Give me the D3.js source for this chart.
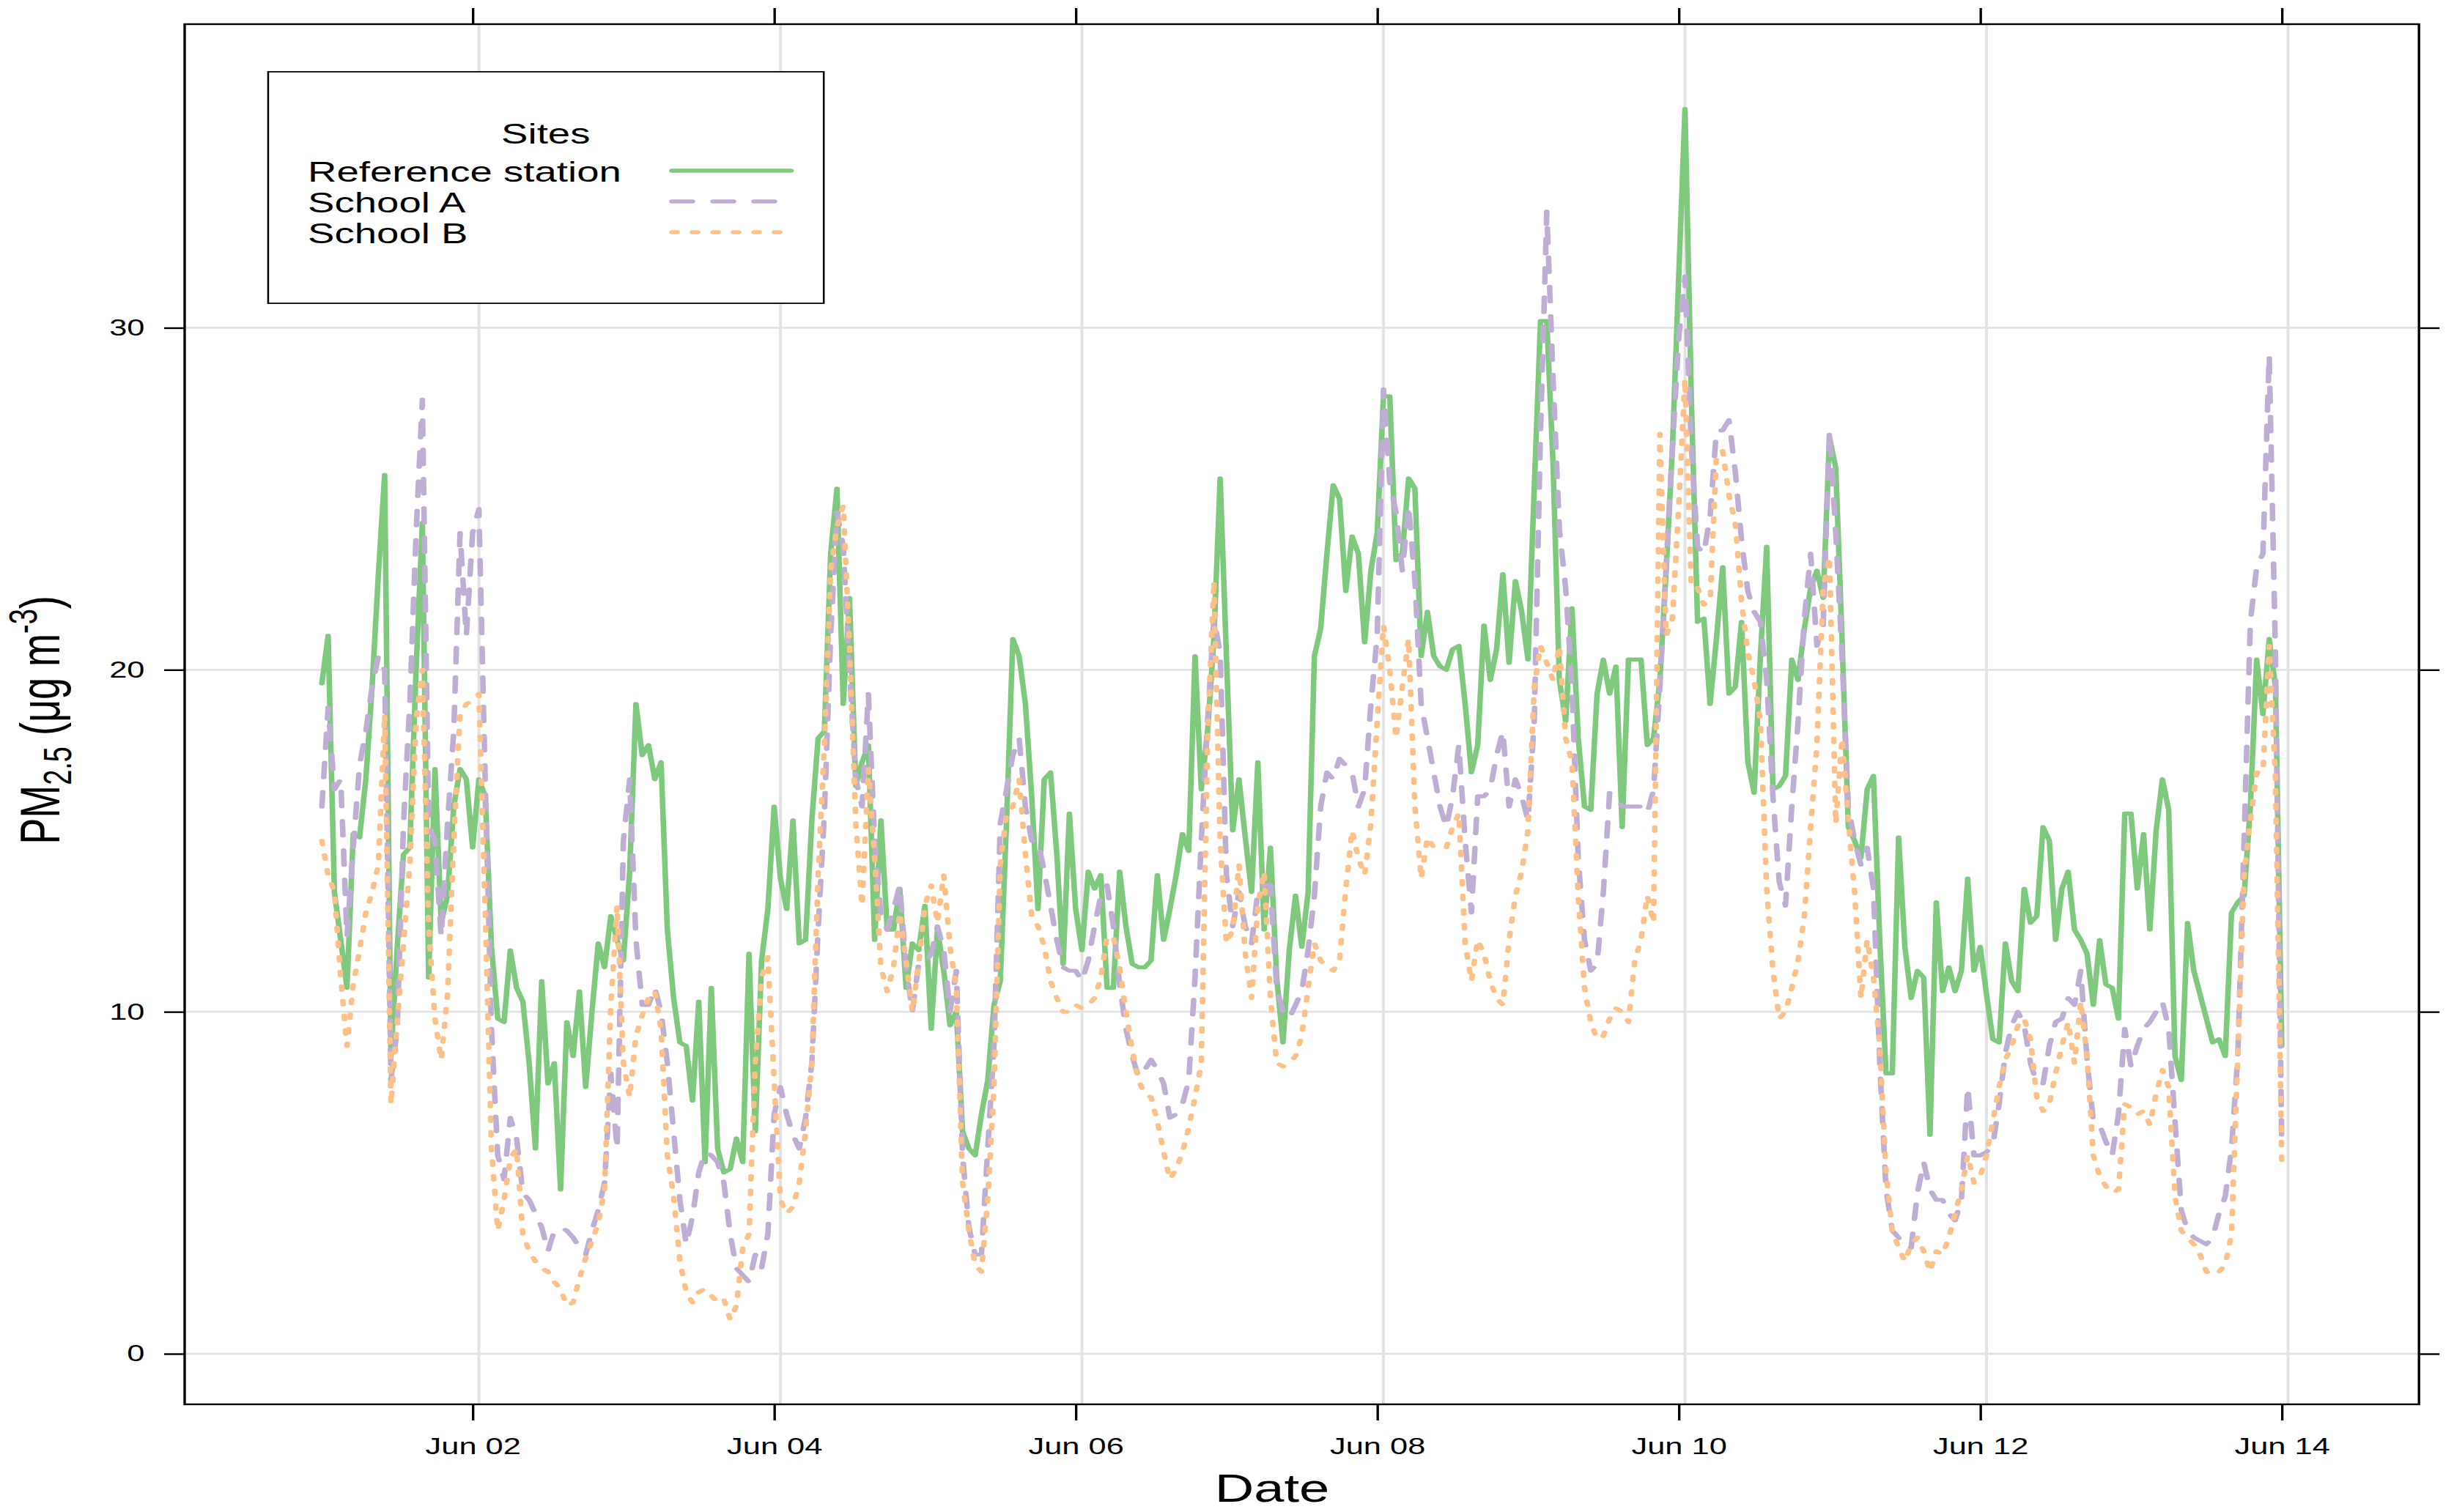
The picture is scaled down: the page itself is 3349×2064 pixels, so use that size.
<!DOCTYPE html>
<html>
<head>
<meta charset="utf-8">
<script src="https://cdn.jsdelivr.net/npm/d3@7"></script>
<style>
  html, body { margin: 0; padding: 0; background: #fff; }
  svg { display: block; }
  text { font-family: "Liberation Sans", Arial, Helvetica, sans-serif; }
</style>
</head>
<body>
<div id="chart"></div>
<script>
// hourly PM2.5 (ug m-3), one row per day, first value is Jun 01 00:00
const refStation = [
  19.6, 21.0, 13.5, 12.1, 10.7, 15.2, 15.1, 16.8, 19.5, 22.8, 25.7, 8.7, 11.9, 14.6, 14.8, 20.0, 24.3, 11.0, 17.1, 12.6, 13.4, 16.0, 17.1, 16.8,
  14.8, 16.8, 16.3, 11.9, 9.8, 9.7, 11.8, 10.7, 10.3, 8.5, 6.0, 10.9, 7.9, 8.5, 4.8, 9.7, 8.7, 10.6, 7.8, 10.0, 12.0, 11.3, 12.8, 12.1,
  11.5, 14.1, 19.0, 17.5, 17.8, 16.8, 17.3, 12.4, 10.4, 9.1, 9.0, 7.4, 10.3, 5.6, 10.7, 6.0, 5.3, 5.4, 6.3, 5.6, 11.7, 6.5, 11.5, 13.0,
  16.0, 13.9, 13.0, 15.6, 12.0, 12.1, 15.6, 18.0, 18.2, 23.4, 25.3, 19.0, 22.1, 16.6, 17.3, 17.8, 12.1, 15.6, 12.4, 12.4, 13.6, 10.7, 12.0, 11.8,
  13.1, 9.5, 12.4, 11.2, 9.6, 10.0, 6.5, 6.0, 5.8, 7.0, 8.0, 10.2, 10.9, 15.6, 20.9, 20.4, 19.0, 16.3, 13.0, 16.8, 17.0, 14.6, 11.4, 15.8,
  13.0, 11.8, 14.1, 13.6, 14.0, 10.7, 10.7, 14.1, 12.5, 11.4, 11.3, 11.3, 11.5, 14.0, 12.1, 13.0, 14.0, 15.2, 14.7, 20.4, 16.5, 18.2, 20.9, 25.6,
  20.4, 15.3, 16.8, 15.1, 13.5, 17.3, 12.4, 14.8, 11.0, 9.1, 11.8, 13.4, 11.9, 13.5, 20.4, 21.2, 23.4, 25.4, 25.0, 22.3, 23.9, 23.4, 20.8, 22.9,
  24.0, 28.0, 28.0, 23.2, 23.4, 25.6, 25.3, 20.4, 21.7, 20.4, 20.1, 20.0, 20.6, 20.7, 19.0, 17.0, 17.8, 21.3, 19.7, 20.6, 22.8, 20.2, 22.6, 21.7,
  20.3, 25.3, 30.2, 30.2, 26.0, 19.7, 18.5, 21.8, 18.0, 16.0, 15.9, 19.3, 20.3, 19.3, 20.1, 15.4, 20.3, 20.3, 20.3, 17.8, 18.0, 19.7, 22.9, 26.5,
  31.5, 36.4, 28.0, 21.4, 21.5, 19.0, 20.9, 23.0, 19.3, 19.5, 21.4, 17.3, 16.4, 20.4, 23.6, 16.5, 16.6, 16.9, 20.3, 19.7, 21.2, 22.4, 22.9, 22.1,
  26.8, 25.9, 20.9, 15.4, 15.0, 14.5, 16.5, 16.9, 12.1, 8.2, 8.2, 15.1, 11.9, 10.4, 11.2, 11.0, 6.4, 13.2, 10.6, 11.3, 10.6, 11.2, 13.9, 11.2,
  11.9, 10.5, 9.2, 9.1, 12.0, 10.9, 10.6, 13.6, 12.6, 12.8, 15.4, 15.0, 12.1, 13.6, 14.1, 12.4, 12.1, 11.7, 10.2, 12.1, 10.8, 10.7, 9.8, 15.8,
  15.8, 13.6, 15.2, 12.4, 15.3, 16.8, 15.9, 8.7, 8.0, 12.6, 11.2, 10.5, 9.8, 9.1, 9.2, 8.7, 12.9, 13.2, 13.4, 16.0, 20.3, 18.7, 20.9, 19.5,
  9.0
];

const schoolA = [
  16.0, 18.9, 16.5, 16.8, 12.2, 14.8, 17.2, 18.2, 19.5, 20.4, 20.0, 8.0, 9.5, 15.5, 19.0, 24.0, 27.9, 15.5, 15.0, 12.2, 15.5, 18.2, 24.0, 21.0,
  24.0, 24.7, 16.8, 9.5, 5.8, 5.1, 6.9, 6.3, 4.7, 4.5, 4.1, 3.7, 3.0, 3.6, 3.7, 3.6, 3.4, 3.1, 2.9, 3.6, 4.2, 5.0, 8.2, 6.0,
  15.0, 16.8, 12.1, 10.2, 10.2, 10.7, 10.0, 8.5, 6.5, 4.5, 3.2, 4.0, 5.3, 5.9, 5.8, 5.6, 5.0, 3.5, 2.5, 2.3, 2.1, 2.9, 2.5, 3.5,
  7.0, 7.8, 7.0, 6.4, 6.0, 6.9, 8.5, 12.4, 15.8, 21.0, 24.6, 23.6, 20.0, 16.8, 16.0, 19.3, 15.0, 12.8, 12.4, 13.0, 13.7, 11.3, 10.0, 11.4,
  11.4, 11.7, 12.5, 11.8, 10.0, 11.2, 5.8, 3.7, 2.9, 2.9, 6.0, 9.0, 15.5, 16.5, 17.5, 18.0, 16.0, 15.0, 15.0, 14.1, 13.1, 12.1, 11.3, 11.2,
  11.2, 10.9, 11.5, 12.5, 13.4, 13.7, 12.5, 10.8, 9.5, 8.7, 8.1, 8.3, 8.6, 8.3, 7.9, 6.9, 7.0, 7.3, 8.0, 11.0, 15.0, 18.5, 21.5, 20.5,
  14.0, 12.5, 13.5, 12.5, 12.0, 13.5, 13.7, 13.7, 10.7, 10.0, 9.8, 10.2, 10.6, 11.8, 13.4, 16.0, 17.0, 16.8, 17.4, 17.2, 17.0, 16.0, 16.5, 19.0,
  21.0, 28.2, 25.5, 24.6, 22.9, 24.8, 22.6, 19.0, 18.0, 17.0, 16.0, 15.4, 16.3, 17.8, 15.0, 12.9, 16.3, 16.3, 16.5, 17.5, 18.2, 16.0, 16.8, 16.3,
  15.6, 18.5, 27.0, 33.4, 28.5, 24.1, 22.4, 19.5, 14.5, 12.1, 11.2, 11.4, 13.5, 16.4, 16.3, 16.0, 16.0, 16.0, 16.0, 15.8, 16.5, 19.5, 23.0, 26.5,
  29.7, 31.5, 26.5, 23.6, 23.4, 24.5, 27.0, 27.0, 27.3, 25.8, 23.8, 22.3, 21.7, 21.4, 19.7, 16.3, 13.8, 13.1, 16.0, 18.5, 21.5, 23.4, 20.7, 21.3,
  27.0, 24.0, 20.4, 16.0, 15.0, 14.3, 14.8, 13.6, 8.5, 4.8, 3.6, 3.4, 3.1, 3.1, 4.7, 5.6, 4.8, 4.5, 4.5, 4.1, 3.9, 4.5, 7.8, 5.8,
  5.8, 5.9, 6.1, 7.3, 8.8, 9.6, 10.0, 9.6, 8.5, 7.9, 7.9, 9.0, 9.7, 9.8, 10.4, 10.2, 11.2, 8.6, 6.8, 6.7, 6.2, 5.8, 7.0, 9.5,
  8.4, 9.0, 9.5, 9.7, 10.0, 10.3, 9.5, 6.8, 4.2, 3.6, 3.4, 3.3, 3.2, 3.4, 4.1, 4.6, 6.0, 8.7, 15.0, 21.4, 23.0, 23.4, 29.2, 20.4,
  6.0
];

const schoolB = [
  15.0, 14.0, 13.5, 11.0, 9.0, 10.8, 11.8, 12.9, 13.5, 14.3, 18.7, 7.3, 9.7, 12.0, 14.3, 18.5, 20.0, 12.5, 9.8, 8.6, 10.5, 15.0, 18.7, 19.0,
  19.1, 19.3, 13.0, 6.0, 3.6, 4.5, 5.7, 6.0, 3.5, 3.0, 2.7, 2.5, 2.4, 2.1, 1.9, 1.4, 1.5, 2.2, 2.8, 3.3, 3.8, 4.8, 10.2, 13.1,
  8.5, 7.5, 9.3, 9.9, 10.4, 10.6, 9.5, 5.8, 4.6, 2.7, 1.8, 1.5, 1.8, 1.9, 1.7, 1.5, 1.6, 1.0, 1.4, 3.1, 3.5, 8.5, 11.0, 11.6,
  8.0, 4.5, 4.1, 4.3, 5.0, 6.5, 8.5, 14.0, 17.8, 22.9, 24.2, 24.8, 20.7, 15.5, 13.1, 17.1, 14.5, 11.3, 10.6, 11.3, 12.9, 11.5, 10.0, 11.4,
  13.1, 13.7, 12.6, 14.0, 11.9, 10.7, 5.0, 3.6, 2.6, 2.4, 4.5, 7.8, 14.3, 15.8, 16.0, 16.8, 14.6, 12.8, 12.5, 11.9, 10.9, 10.4, 10.0, 10.0,
  10.2, 10.1, 10.2, 10.4, 11.0, 12.2, 12.2, 11.3, 10.0, 8.9, 8.0, 7.6, 7.5, 6.8, 5.9, 5.1, 5.4, 5.9, 6.6, 7.5, 8.5, 18.0, 22.6, 15.0,
  12.0, 12.4, 14.3, 11.7, 10.4, 13.1, 14.1, 10.4, 8.5, 8.4, 8.5, 8.7, 9.3, 10.7, 12.0, 11.5, 11.3, 11.2, 11.5, 13.6, 15.3, 14.5, 14.0, 15.5,
  18.5, 21.3, 20.0, 18.0, 19.5, 20.9, 16.0, 13.9, 15.1, 14.8, 14.8, 14.8, 15.4, 15.8, 12.0, 10.9, 12.1, 11.7, 10.9, 10.4, 10.2, 12.1, 13.4, 14.1,
  15.3, 19.5, 20.7, 20.2, 19.7, 20.7, 18.0, 17.3, 13.4, 10.7, 9.7, 9.2, 9.3, 9.8, 10.1, 10.0, 9.7, 11.5, 12.1, 13.4, 12.6, 26.9, 21.0, 21.5,
  24.8, 28.5, 22.4, 22.4, 21.9, 22.0, 26.3, 26.4, 25.1, 24.3, 22.0, 20.5, 19.7, 18.5, 13.6, 11.2, 9.8, 10.0, 10.7, 11.5, 12.8, 15.4, 17.8, 22.4,
  23.3, 15.5, 18.0, 15.6, 13.5, 10.4, 12.1, 11.0, 9.0, 5.3, 3.6, 3.1, 2.7, 3.2, 3.4, 3.0, 2.4, 3.0, 2.9, 3.4, 4.1, 4.8, 5.8, 5.0,
  5.2, 5.8, 6.8, 7.8, 8.6, 9.0, 9.6, 9.8, 9.2, 7.5, 7.1, 7.3, 8.2, 9.0, 9.7, 8.5, 10.3, 8.7, 5.8, 5.2, 4.9, 4.7, 4.8, 7.3,
  7.2, 7.0, 7.1, 6.7, 7.6, 8.3, 7.8, 4.6, 3.6, 3.4, 3.2, 2.9, 2.4, 2.3, 2.4, 2.6, 3.5, 8.7, 14.0, 15.6, 17.0, 17.0, 20.7, 16.8,
  5.6
];

const siteNames = ["Reference station", "School A", "School B"];
const tickDays = [2, 4, 6, 8, 10, 12, 14];   // Jun 02 ... Jun 14
const yTicks = [0, 10, 20, 30];

// the reference picture is stretched sideways, so draw in a narrower
// viewBox and let the svg stretch it back out
const fullWidth = 3349;
const height = 2064;
const stretch = 1.4;
const width = fullWidth / stretch;

const margin = { top: 33, right: width - 2358, bottom: height - 1917, left: 180 };

const colors = ["#7FC97F", "#BEAED4", "#FDC086"];
const dashes = [null, "20,20", "5,15"];
const lineWidth = 5.4;

const start = new Date(2023, 5, 1, 0);
const times = refStation.map((d, i) => d3.timeHour.offset(start, i));
const series = [refStation, schoolA, schoolB];

// lattice style padding of 7% on both axes
const tMin = times[0], tMax = times[times.length - 1];
const tPad = (tMax - tMin) * 0.07;
const x = d3.scaleTime()
    .domain([new Date(+tMin - tPad), new Date(+tMax + tPad)])
    .range([margin.left, width - margin.right]);

const vMin = d3.min(series, s => d3.min(s));
const vMax = d3.max(series, s => d3.max(s));
const vPad = (vMax - vMin) * 0.07;
const y = d3.scaleLinear()
    .domain([vMin - vPad, vMax + vPad])
    .range([height - margin.bottom, margin.top]);

const tickDates = tickDays.map(d => new Date(2023, 5, d));

const svg = d3.create("svg")
    .attr("width", fullWidth)
    .attr("height", height)
    .attr("viewBox", [0, 0, width, height])
    .attr("preserveAspectRatio", "none");

// grid (vertical lines sit one hour after the tick marks, as in the original)
const grid = svg.append("g")
    .attr("stroke", "#e2e2e2")
    .attr("stroke-width", 2.8);

grid.selectAll(".vgrid")
    .data(tickDates)
    .join("line")
    .attr("x1", d => x(d3.timeHour.offset(d, 1)))
    .attr("x2", d => x(d3.timeHour.offset(d, 1)))
    .attr("y1", margin.top)
    .attr("y2", height - margin.bottom);

grid.selectAll(".hgrid")
    .data(yTicks)
    .join("line")
    .attr("x1", margin.left)
    .attr("x2", width - margin.right)
    .attr("y1", d => y(d))
    .attr("y2", d => y(d));

// lines
const line = d3.line()
    .x((d, i) => x(times[i]))
    .y(d => y(d));

series.forEach((s, i) => {
    svg.append("path")
        .datum(s)
        .attr("fill", "none")
        .attr("stroke", colors[i])
        .attr("stroke-width", lineWidth)
        .attr("stroke-linejoin", "round")
        .attr("stroke-linecap", "round")
        .attr("stroke-dasharray", dashes[i])
        .attr("d", line);
});

// axes
function styleAxis(g) {
    g.select(".domain").remove();
    g.attr("font-size", null).attr("font-family", null);
    g.selectAll(".tick line").attr("stroke", "#000").attr("stroke-width", 2.4);
    g.selectAll(".tick text")
        .attr("fill", "#000")
        .style("font-size", "31px")
        .style("font-family", '"Liberation Sans", Arial, sans-serif');
}

svg.append("g")
    .attr("transform", `translate(0,${height - margin.bottom})`)
    .call(d3.axisBottom(x).tickValues(tickDates)
        .tickFormat(d3.timeFormat("%b %d")).tickSize(22).tickPadding(24))
    .call(styleAxis);

svg.append("g")
    .attr("transform", `translate(0,${margin.top})`)
    .call(d3.axisTop(x).tickValues(tickDates).tickFormat("").tickSize(22))
    .call(styleAxis);

svg.append("g")
    .attr("transform", `translate(${margin.left},0)`)
    .call(d3.axisLeft(y).tickValues(yTicks).tickSize(20).tickPadding(19))
    .call(styleAxis);

svg.append("g")
    .attr("transform", `translate(${width - margin.right},0)`)
    .call(d3.axisRight(y).tickValues(yTicks).tickFormat("").tickSize(20))
    .call(styleAxis);

// panel border
svg.append("rect")
    .attr("x", margin.left)
    .attr("y", margin.top)
    .attr("width", width - margin.left - margin.right)
    .attr("height", height - margin.top - margin.bottom)
    .attr("fill", "none")
    .attr("stroke", "#000")
    .attr("stroke-width", 2.4);

// axis titles
svg.append("text")
    .attr("x", 1240)
    .attr("y", 2050)
    .attr("text-anchor", "middle")
    .style("font-size", "53px")
    .text("Date");

const yLab = svg.append("text")
    .attr("transform", `translate(58,983) rotate(-90)`)
    .attr("text-anchor", "middle")
    .style("font-size", "54px");
yLab.append("tspan").text("PM");
yLab.append("tspan").attr("dy", 11).style("font-size", "38px").text("2.5");
yLab.append("tspan").attr("dy", -11).text(" (\u03bcg m");
yLab.append("tspan").attr("dy", -22).style("font-size", "38px").text("-3");
yLab.append("tspan").attr("dy", 22).text(")");

// legend
const legend = svg.append("g");

legend.append("rect")
    .attr("x", 261.4)
    .attr("y", 98)
    .attr("width", 541.6)
    .attr("height", 316)
    .attr("fill", "#fff")
    .attr("stroke", "#000")
    .attr("stroke-width", 1.8);

legend.append("text")
    .attr("x", 532)
    .attr("y", 196)
    .attr("text-anchor", "middle")
    .style("font-size", "39px")
    .text("Sites");

siteNames.forEach((name, i) => {
    const row = legend.append("g")
        .attr("transform", `translate(0,${i * 42})`);

    row.append("text")
        .attr("x", 300)
        .attr("y", 248)
        .style("font-size", "39px")
        .text(name);

    row.append("line")
        .attr("x1", 655)
        .attr("x2", 771)
        .attr("y1", 233)
        .attr("y2", 233)
        .attr("stroke", colors[i])
        .attr("stroke-width", lineWidth)
        .attr("stroke-linecap", "round")
        .attr("stroke-dasharray", dashes[i]);
});

document.getElementById("chart").appendChild(svg.node());
</script>
</body>
</html>
